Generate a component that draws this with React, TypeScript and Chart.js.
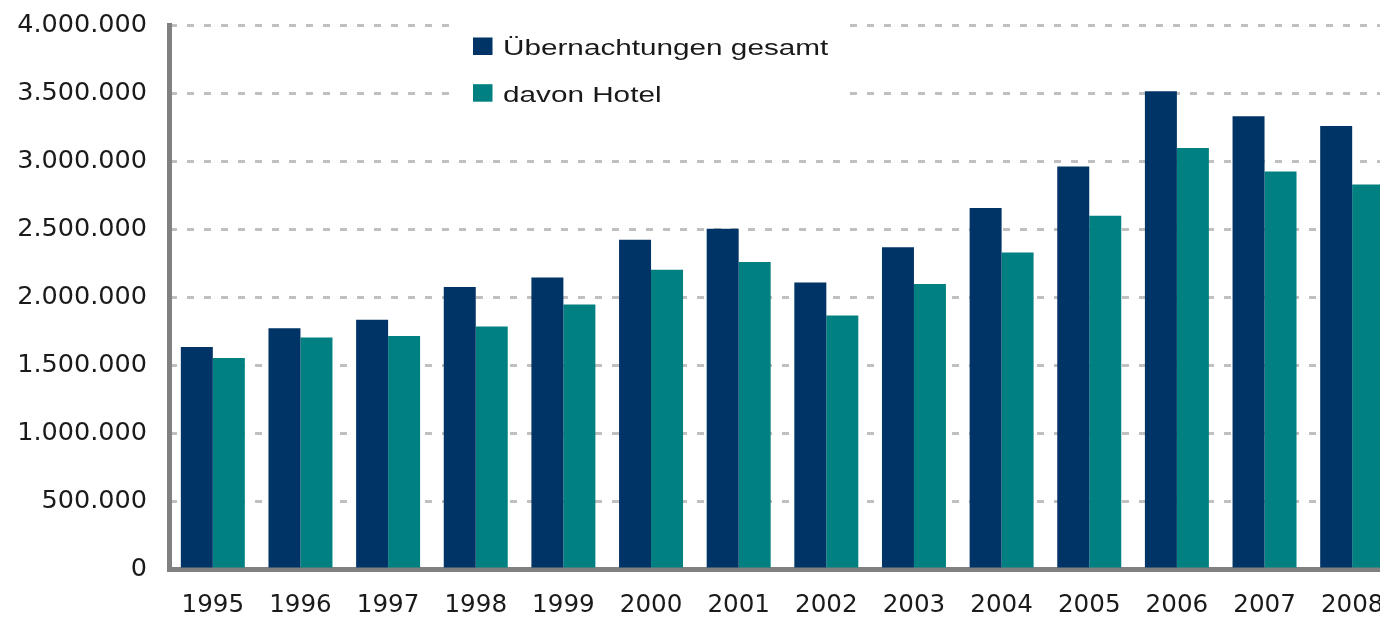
import React, { useEffect, useRef } from 'react';
import { Chart, registerables } from 'chart.js';

Chart.register(...registerables);

const years = ['1995', '1996', '1997', '1998', '1999', '2000', '2001', '2002', '2003', '2004', '2005', '2006', '2007', '2008'];
const gesamt = [1632000, 1771000, 1833000, 2073000, 2144000, 2421000, 2502000, 2107000, 2365000, 2655000, 2959000, 3513000, 3329000, 3258000];
const hotel = [1551000, 1702000, 1713000, 1783000, 1945000, 2201000, 2257000, 1864000, 2095000, 2328000, 2598000, 3096000, 2922000, 2828000];
const seriesNames = ['Übernachtungen gesamt', 'davon Hotel'];
const seriesColors = ['#003366', '#008080'];
const yMin = 0;
const yMax = 4000000;
const yStep = 500000;

function formatDE(v: number): string {
  return String(Math.round(v)).replace(/\B(?=(\d{3})+(?!\d))/g, '.');
}

const boxLegend = {
  id: 'boxLegend',
  afterDraw(chart: any) {
    const ctx = chart.ctx as CanvasRenderingContext2D;
    ctx.save();
    ctx.fillStyle = '#ffffff';
    ctx.fillRect(459, 8, 390, 114);
    chart.data.datasets.forEach((ds: any, i: number) => {
      const baseY = 55 + i * 46.7;
      ctx.fillStyle = ds.backgroundColor;
      ctx.fillRect(473, baseY - 17.5, 19.5, 17.5);
      ctx.save();
      ctx.translate(503, baseY);
      ctx.scale(1.35, 1);
      ctx.font = '22px "Liberation Sans", Arial, sans-serif';
      ctx.fillStyle = '#1a1a1a';
      ctx.textBaseline = 'alphabetic';
      ctx.textAlign = 'left';
      ctx.fillText(ds.label, 0, 0);
      ctx.restore();
    });
    ctx.restore();
  },
};

export default function App() {
  const canvasRef = useRef<HTMLCanvasElement | null>(null);

  useEffect(() => {
    const canvas = canvasRef.current;
    if (!canvas) return;
    const chart = new Chart(canvas, {
      type: 'bar',
      data: {
        labels: years,
        datasets: [
          { label: seriesNames[0], data: gesamt, backgroundColor: seriesColors[0], borderWidth: 0 },
          { label: seriesNames[1], data: hotel, backgroundColor: seriesColors[1], borderWidth: 0 },
        ],
      },
      options: {
        responsive: false,
        animation: false,
        layout: { padding: { top: 25, right: 4, left: 0, bottom: 0 } },
        plugins: {
          legend: { display: false },
          tooltip: { enabled: false },
        },
        datasets: { bar: { categoryPercentage: 0.73, barPercentage: 1 } },
        scales: {
          x: {
            grid: { display: false, drawTicks: false },
            border: { display: true, color: '#808080', width: 5 },
            ticks: {
              color: '#1a1a1a',
              font: { family: '"DejaVu Sans", sans-serif', size: 24.6 },
              padding: 22,
              autoSkip: false,
              maxRotation: 0,
              minRotation: 0,
            },
            afterFit(s: any) {
              s.height = 51;
              s.paddingLeft = 0;
              s.paddingRight = 0;
            },
          },
          y: {
            min: yMin,
            max: yMax,
            grid: { color: '#c0c0c0', lineWidth: 3, drawTicks: false },
            border: { display: true, color: '#808080', width: 5, dash: [7, 10], dashOffset: 2 },
            ticks: {
              stepSize: yStep,
              color: '#1a1a1a',
              font: { family: '"DejaVu Sans", sans-serif', size: 25.5 },
              padding: 22,
              callback: (v: any) => formatDE(Number(v)),
            },
            afterFit(s: any) {
              s.width = 169;
              s.paddingTop = 0;
              s.paddingBottom = 0;
            },
          },
        },
      },
      plugins: [boxLegend],
    } as any);
    return () => chart.destroy();
  }, []);

  return (
    <div style={{ position: 'fixed', left: 0, top: 0, width: 1380, height: 620, overflow: 'hidden', background: '#ffffff' }}>
      <canvas ref={canvasRef} width={1400} height={620} style={{ display: 'block' }} />
    </div>
  );
}
